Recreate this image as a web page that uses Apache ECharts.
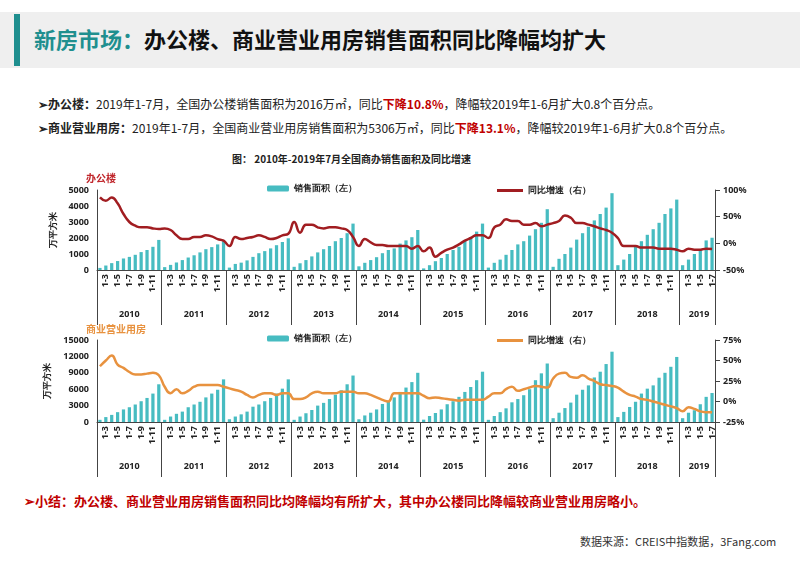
<!DOCTYPE html>
<html><head><meta charset="utf-8">
<script src="https://cdn.jsdelivr.net/npm/echarts@6/dist/echarts.min.js"></script>
<style>
body{margin:0;width:800px;height:565px;position:relative;background:#fff;font-family:"Noto Sans CJK SC","Noto Sans",sans-serif;overflow:hidden}
.t{position:absolute;white-space:nowrap}
</style></head><body>
<div class="t" style="left:0;top:12px;width:800px;height:56px;background:#efefef"></div>
<div class="t" style="left:14px;top:14px;width:6px;height:52px;background:#1f8f8f"></div>
<div class="t" style="left:34px;top:22px;font-size:22px;font-weight:bold;color:#111"><span style="color:#1f8f8f">新房市场：</span>办公楼、商业营业用房销售面积同比降幅均扩大</div>
<div class="t" style="left:38px;top:95px;font-size:12px;color:#222"><b>➢办公楼：</b>2019年1-7月，全国办公楼销售面积为2016万㎡，同比<b style="color:#c00000">下降10.8%</b>，降幅较2019年1-6月扩大0.8个百分点。</div>
<div class="t" style="left:38px;top:119px;font-size:12px;color:#222"><b>➢商业营业用房：</b>2019年1-7月，全国商业营业用房销售面积为5306万㎡，同比<b style="color:#c00000">下降13.1%</b>，降幅较2019年1-6月扩大0.8个百分点。</div>
<div class="t" style="left:232px;top:151px;font-size:10px;font-weight:bold;color:#222">图： 2010年-2019年7月全国商办销售面积及同比增速</div>
<div class="t" style="left:24px;top:491px;font-size:13px;font-weight:bold;color:#c00000">➢小结：办公楼、商业营业用房销售面积同比均降幅均有所扩大，其中办公楼同比降幅较商业营业用房略小。</div>
<div class="t" style="left:580px;top:533px;font-size:11px;color:#333">数据来源：CREIS中指数据，3Fang.com</div>
<div id="c" style="position:absolute;left:0;top:160px;width:800px;height:320px"></div>
<script>
var years = ['2010','2011','2012','2013','2014','2015','2016','2017','2018','2019'];
var months = ['1-2','1-3','1-4','1-5','1-6','1-7','1-8','1-9','1-10','1-11','1-12'];
var months2019 = ['1-2','1-3','1-4','1-5','1-6','1-7'];

var officeArea = [
  130,280,430,560,720,820,950,1120,1250,1450,1880,
  180,320,470,620,780,920,1100,1300,1430,1600,1800,
  150,380,460,600,820,1050,1180,1350,1550,1750,1980,
  200,420,620,850,1100,1300,1500,1800,2000,2300,2900,
  230,450,620,800,1050,1250,1350,1650,1850,2050,2500,
  100,300,550,750,1000,1250,1450,1850,2050,2400,2900,
  150,450,650,950,1250,1600,1800,2150,2550,2950,3800,
  200,700,1000,1400,1900,2300,2700,3100,3500,3900,4800,
  300,650,1000,1500,1800,2200,2550,2950,3500,3850,4400,
  300,650,1000,1250,1850,2016];
var officeGrowth = [
  86,80,86,75,55,40,33,30,30,28,27,
  28,25,15,8,8,12,12,15,13,8,5,
  -5,12,8,10,12,15,12,8,10,15,18,
  40,20,35,35,30,28,30,30,28,25,12,
  -5,8,2,-3,-3,-5,-5,-5,-5,-10,-5,
  -15,-8,-25,-18,-12,-8,-2,5,10,15,15,
  10,30,35,45,42,42,35,35,38,32,35,
  38,42,52,48,38,38,35,32,28,25,20,
  10,-5,-5,-5,-8,-8,-8,-10,-10,-10,-12,
  -15,-10,-12,-12,-10,-10.8];
var shopArea = [
  400,900,1300,1800,2300,2700,3200,3800,4400,5200,6900,
  400,1000,1500,1900,2700,3200,3700,4500,5200,5900,7800,
  500,1000,1400,1900,2800,3200,3800,4400,5200,6100,7800,
  400,1000,1600,2200,3000,3500,4200,5000,5800,6900,8500,
  500,1200,1700,2300,3300,3800,4500,5500,6300,7300,9000,
  430,1100,1650,2300,3250,3800,4600,5500,6400,7650,9200,
  400,1100,1800,2500,3600,4200,4900,6000,7650,8900,10700,
  700,1700,2550,3550,5000,5900,6700,8150,9200,10600,12860,
  900,1850,2750,3700,5200,6100,6700,8100,9000,10100,11900,
  700,1700,2150,3250,4600,5306];
var shopGrowth = [
  43,50,56,45,41,36,33,33,34,35,32,
  18,10,15,10,13,18,20,20,20,20,18,
  16,14,12,8,5,8,10,10,8,10,10,
  3,3,5,10,12,10,10,10,12,12,12,
  10,10,8,5,2,0,10,10,10,10,10,
  7,4,5,4,3,2,1,2,2,2,2,
  6,10,10,15,18,13,15,17,19,18,17,
  28,34,35,30,29,32,28,25,21,20,19,
  17,12,8,6,3,2,0,-2,-4,-6,-8,
  -12,-7,-9,-12,-13,-13.1];

var cats = [];
years.forEach(function(y){
  (y === '2019' ? months2019 : months).forEach(function(m){ cats.push(y + '|' + m); });
});
var teal = '#47bcc1', red = '#a11d21', orange = '#e8923f';
var lab = {fontSize:9,fontWeight:'bold',color:'#222',fontFamily:'Noto Sans'};

function monthAxis(gi){
  return {type:'category',gridIndex:gi,data:cats,
    axisLine:{lineStyle:{color:'#444'}},
    axisTick:{show:true,length:55,lineStyle:{color:'#444'},interval:function(i,v){return v.split('|')[1]==='1-2';}},
    axisLabel:Object.assign({},lab,{rotate:90,margin:4,interval:function(i,v){
      var m=v.split('|')[1];return ['1-3','1-5','1-7','1-9','1-11'].indexOf(m)>=0;},
      formatter:function(v){return v.split('|')[1];}})};
}
function yearAxis(gi){
  return {type:'category',gridIndex:gi,data:cats,position:'bottom',offset:32,
    axisLine:{show:false},axisTick:{show:false},
    axisLabel:Object.assign({},lab,{interval:function(i,v){
      var y=v.split('|')[0],m=v.split('|')[1];return y==='2019'?m==='1-4':m==='1-7';},
      formatter:function(v){var y=v.split('|')[0];return y==='2019'?'    '+y:y;}})};
}
function plain(v){ return String(v); }
var chart = echarts.init(document.getElementById('c'));
chart.setOption({
  animation:false,
  grid:[{left:97,right:85,top:30,height:80},{left:97,right:85,top:180,height:82}],
  legend:[
    {data:['销售面积（左）'],left:262,top:19,itemWidth:22,itemHeight:6,textStyle:lab},
    {data:[{name:'同比增速（右）',icon:'rect'}],left:492,top:21,itemWidth:26,itemHeight:3,textStyle:lab},
    {data:['销售面积（左） '],left:262,top:169,itemWidth:22,itemHeight:6,textStyle:lab},
    {data:[{name:'同比增速（右） ',icon:'rect'}],left:492,top:171,itemWidth:26,itemHeight:3,textStyle:lab}],
  xAxis:[monthAxis(0),yearAxis(0),monthAxis(1),yearAxis(1)],
  yAxis:[
    {gridIndex:0,min:0,max:5000,interval:1000,name:'万平方米',nameLocation:'middle',nameGap:32,nameTextStyle:lab,
      axisLine:{show:true,lineStyle:{color:'#444'}},splitLine:{show:false},axisLabel:Object.assign({},lab,{formatter:plain})},
    {gridIndex:0,min:-50,max:100,interval:50,axisLine:{show:true,lineStyle:{color:'#444'}},axisTick:{show:true},
      splitLine:{show:false},axisLabel:Object.assign({},lab,{formatter:'{value}%'})},
    {gridIndex:1,min:0,max:15000,interval:3000,name:'万平方米',nameLocation:'middle',nameGap:36,nameTextStyle:lab,
      axisLine:{show:true,lineStyle:{color:'#444'}},splitLine:{show:false},axisLabel:Object.assign({},lab,{formatter:plain})},
    {gridIndex:1,min:-25,max:75,interval:25,axisLine:{show:true,lineStyle:{color:'#444'}},axisTick:{show:true},
      splitLine:{show:false},axisLabel:Object.assign({},lab,{formatter:'{value}%'})}],
  series:[
    {name:'销售面积（左）',type:'bar',xAxisIndex:0,yAxisIndex:0,data:officeArea,itemStyle:{color:teal},barWidth:'55%'},
    {name:'同比增速（右）',type:'line',xAxisIndex:0,yAxisIndex:1,data:officeGrowth,smooth:true,symbol:'none',lineStyle:{color:red,width:2.5},itemStyle:{color:red}},
    {name:'销售面积（左） ',type:'bar',xAxisIndex:2,yAxisIndex:2,data:shopArea,itemStyle:{color:teal},barWidth:'55%'},
    {name:'同比增速（右） ',type:'line',xAxisIndex:2,yAxisIndex:3,data:shopGrowth,smooth:true,symbol:'none',lineStyle:{color:orange,width:2.5},itemStyle:{color:orange}}],
  graphic:[
    {type:'text',left:86,top:13,style:{text:'办公楼',fill:'#c0262b',font:'bold 10px "Noto Sans CJK SC"'}},
    {type:'text',left:86,top:164,style:{text:'商业营业用房',fill:orange,font:'bold 10px "Noto Sans CJK SC"'}}]
});
</script>
</body></html>
